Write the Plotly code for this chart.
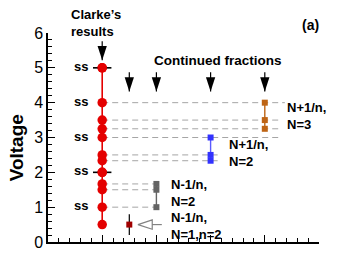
import plotly.graph_objects as go

# ---- data ----
clarke_x = [1] * 12
clarke_y = [5, 4, 3.5, 3.25, 3, 2.5, 2.333, 2, 1.667, 1.5, 1, 0.5]
ss_levels = [5, 4, 3, 2, 1]
ss_bar_levels = [5, 2]

n1_x = [1.5]
n1_y = [0.5]
nm_x = [2, 2, 2]
nm_y = [1.667, 1.5, 1]
np2_x = [3, 3, 3]
np2_y = [3, 2.5, 2.333]
np3_x = [4, 4, 4]
np3_y = [4, 3.5, 3.25]

guide_y = [4, 3.5, 3.25, 3, 2.5, 2.333, 1.667, 1.5, 1]
guide_end = [4.37, 4.32, 4.32, 4.32, 3.13, 3.13, 2.1, 2.1, 2.0]

cf_arrow_x = [1.5, 2, 3, 4]
cf_arrow_top = 4.87
cf_arrow_tip = 4.32
clarke_arrow_top = 5.76
clarke_arrow_tip = 5.22

FONT = "Liberation Sans, Arial, sans-serif"
RED = "rgb(228,0,0)"
GRAY = "rgb(100,100,100)"
BLUE = "rgb(50,50,255)"
ORANGE = "rgb(190,100,20)"
DARKRED = "rgb(160,0,0)"
DASH = "rgb(165,165,165)"

fig = go.Figure()

# dashed guide lines
for gy, ge in zip(guide_y, guide_end):
    fig.add_trace(go.Scatter(x=[1, ge], y=[gy, gy], mode="lines",
                             line=dict(color=DASH, width=1, dash="6px,4px"),
                             hoverinfo="skip", showlegend=False))

# Clarke's results
fig.add_trace(go.Scatter(x=clarke_x, y=clarke_y, mode="lines+markers",
                         line=dict(color=RED, width=1.6),
                         marker=dict(color=RED, size=9.5, symbol="circle"),
                         showlegend=False))
# black horizontal bars at selected ss levels
fig.add_trace(go.Scatter(x=[1] * len(ss_bar_levels), y=ss_bar_levels, mode="markers",
                         marker=dict(color=RED, size=9.5),
                         error_x=dict(type="constant", value=0.17, color="black",
                                      thickness=1.6, width=0),
                         showlegend=False))

# N-1/n, N=2
fig.add_trace(go.Scatter(x=nm_x, y=nm_y, mode="lines+markers",
                         line=dict(color=GRAY, width=1.4),
                         marker=dict(color=GRAY, size=6, symbol="square"),
                         showlegend=False))
# N+1/n, N=2
fig.add_trace(go.Scatter(x=np2_x, y=np2_y, mode="lines+markers",
                         line=dict(color="rgb(90,90,255)", width=1.4),
                         marker=dict(color=BLUE, size=6, symbol="square"),
                         showlegend=False))
# N+1/n, N=3
fig.add_trace(go.Scatter(x=np3_x, y=np3_y, mode="lines+markers",
                         line=dict(color=ORANGE, width=1.4),
                         marker=dict(color=ORANGE, size=6, symbol="square"),
                         showlegend=False))
# N-1/n, N=1, n=2
fig.add_trace(go.Scatter(x=n1_x, y=n1_y, mode="markers",
                         marker=dict(color=DARKRED, size=6, symbol="square"),
                         error_y=dict(type="constant", value=0.3, color="black",
                                      thickness=1.2, width=0),
                         showlegend=False))

# downward arrows
for ax in cf_arrow_x:
    fig.add_trace(go.Scatter(x=[ax, ax], y=[cf_arrow_top, cf_arrow_tip], mode="lines",
                             line=dict(color="black", width=1.2),
                             hoverinfo="skip", showlegend=False))
fig.add_trace(go.Scatter(x=cf_arrow_x, y=[cf_arrow_tip] * len(cf_arrow_x), mode="markers",
                         marker=dict(symbol="arrow", angle=180, size=15, color="black",
                                     line=dict(width=0)),
                         hoverinfo="skip", showlegend=False))
fig.add_trace(go.Scatter(x=[1, 1], y=[clarke_arrow_top, clarke_arrow_tip], mode="lines",
                         line=dict(color="black", width=1.2),
                         hoverinfo="skip", showlegend=False))
fig.add_trace(go.Scatter(x=[1], y=[clarke_arrow_tip], mode="markers",
                         marker=dict(symbol="arrow", angle=180, size=15, color="black",
                                     line=dict(width=0)),
                         hoverinfo="skip", showlegend=False))

# left-pointing open arrow to N=1 marker
left_arrow_tip = 1.66
left_arrow_base = 1.92
left_arrow_end = 2.1
fig.add_trace(go.Scatter(x=[left_arrow_base, left_arrow_end], y=[0.5, 0.5], mode="lines",
                         line=dict(color="rgb(130,130,130)", width=1.2),
                         hoverinfo="skip", showlegend=False))
fig.add_trace(go.Scatter(x=[left_arrow_tip], y=[0.5], mode="markers",
                         marker=dict(symbol="arrow-open", angle=-90, size=15,
                                     color="rgb(130,130,130)", line=dict(width=1.2)),
                         hoverinfo="skip", showlegend=False))

annos = []
def txt(x, y, s, size=13, xanchor="left", xref="x", yref="y", angle=0, align="left"):
    annos.append(dict(x=x, y=y, xref=xref, yref=yref, text="<b>" + s + "</b>",
                      showarrow=False, xanchor=xanchor, yanchor="middle",
                      textangle=angle, align=align,
                      font=dict(family=FONT, size=size, color="black")))

for lv in ss_levels:
    txt(0.77, lv + 0.04, "ss", 13, "right")

txt(0.39 / 5, 1.048, "Clarke’s<br>results", 13, xref="paper", yref="paper")
txt(1.92, 5.22, "Continued fractions", 13.5)
txt(0.97, 1.038, "(a)", 14, "center", xref="paper", yref="paper")
txt(4.37, 3.63, "N+1/n,<br>N=3", 13)
txt(3.30, 2.55, "N+1/n,<br>N=2", 13)
txt(2.23, 1.41, "N-1/n,<br>N=2", 13)
txt(2.23, 0.47, "N-1/n,<br>N=1,n=2", 13)
txt(-0.115, 0.452, "Voltage", 19, "center", xref="paper", yref="paper", angle=-90)

fig.update_layout(
    width=364, height=273,
    margin=dict(l=40, r=53, t=25, b=39),
    paper_bgcolor="white", plot_bgcolor="white",
    annotations=annos,
    font=dict(family=FONT, color="black"),
    xaxis=dict(range=[0, 5], showgrid=False, zeroline=False, showline=True,
               linecolor="black", linewidth=1.5, ticks="inside", ticklen=7,
               tickwidth=1, tickcolor="black", dtick=1, tick0=0,
               showticklabels=False,
               minor=dict(ticks="inside", ticklen=4, dtick=0.2, tickcolor="black",
                          tickwidth=1, showgrid=False)),
    yaxis=dict(range=[0, 6], showgrid=False, zeroline=False, showline=True,
               linecolor="black", linewidth=1.5, ticks="inside", ticklen=7,
               tickwidth=1, tickcolor="black", dtick=1, tick0=0,
               tickfont=dict(family=FONT, size=16, color="black"),
               minor=dict(ticks="inside", ticklen=4, dtick=0.2, tickcolor="black",
                          tickwidth=1, showgrid=False)),
)

fig.write_html("out.html")
